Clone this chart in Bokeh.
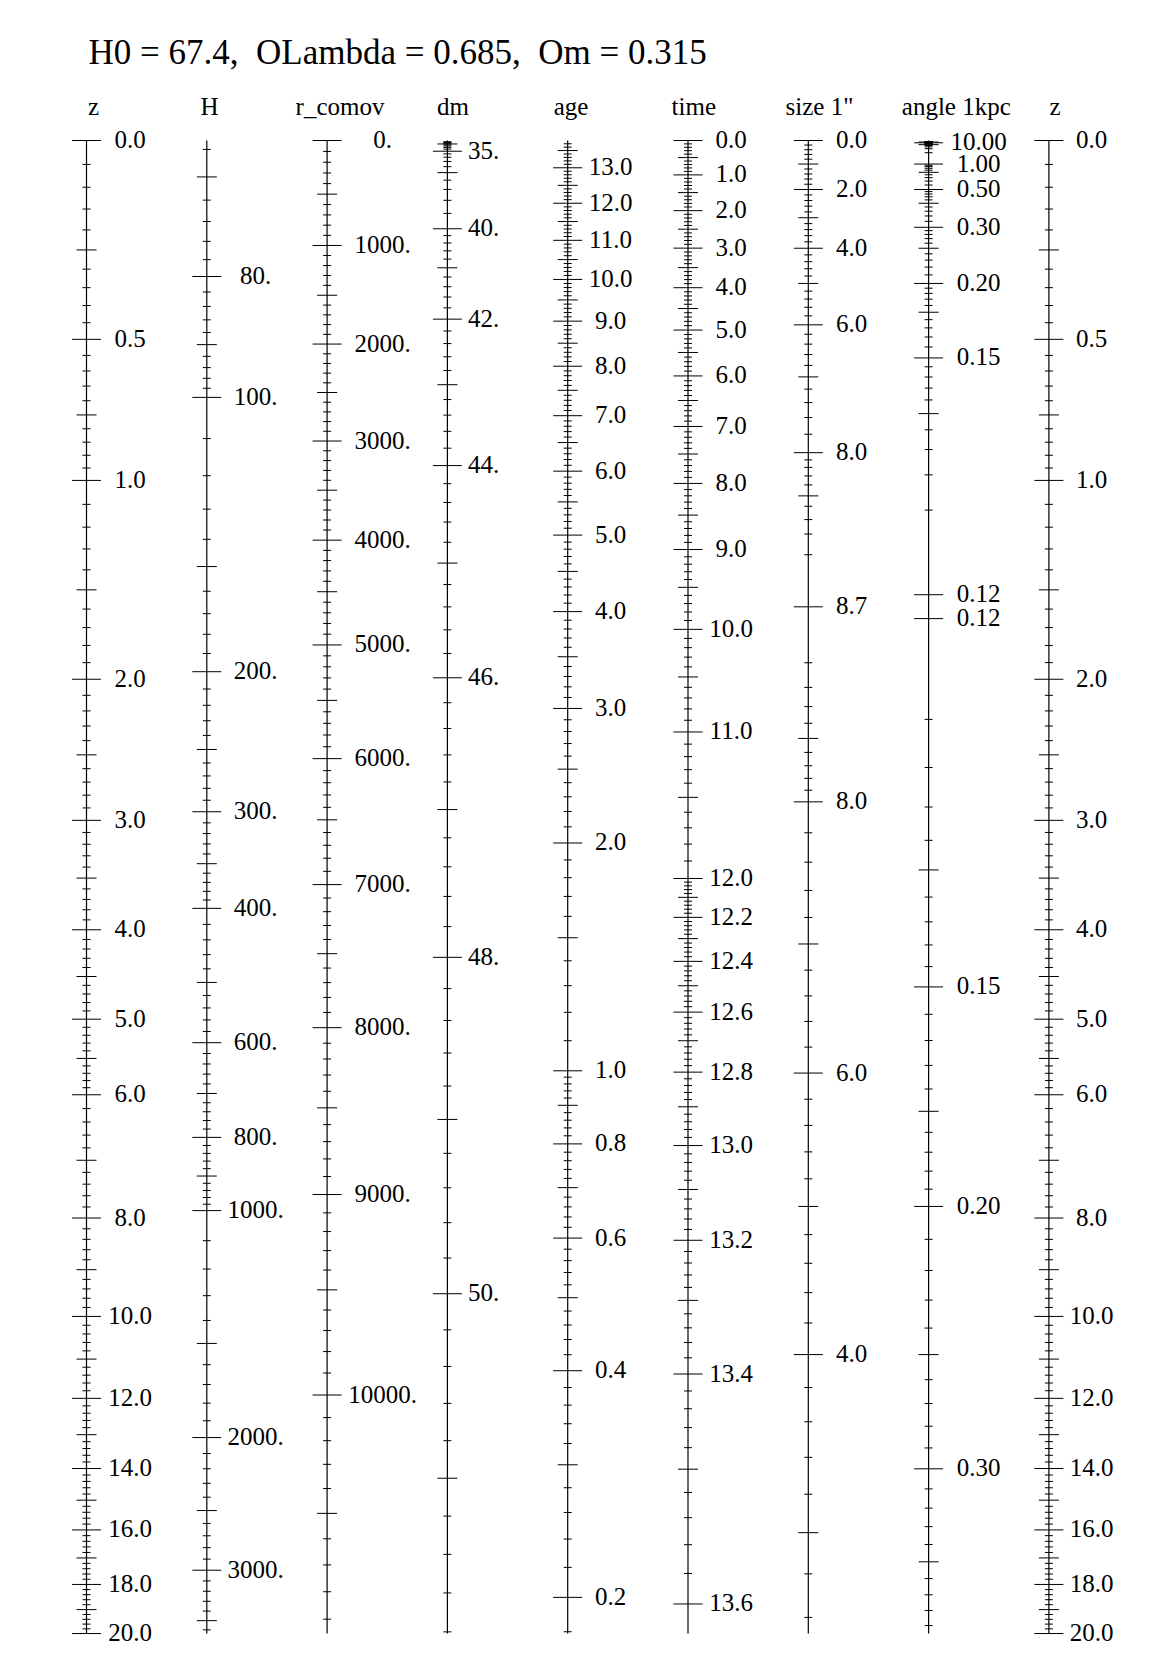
import numpy as np
from bokeh.plotting import figure
from bokeh.models import Range1d
from bokeh.embed import file_html
from bokeh.resources import INLINE
from bokeh.core.properties import value

# ------------------------------------------------------------------ data
TITLE = "H0 = 67.4,\u00a0 OLambda = 0.685,\u00a0 Om = 0.315"
HEADERS = ["z", "H", "r_comov", "dm", "age", "time", 'size 1"', "angle 1kpc", "z"]

Z_RANGE = [0.0, 20.0]

# redshift scale (its own values are the positions)
z_major = [0.0, 0.5, 1.0, 2.0, 3.0, 4.0, 5.0, 6.0, 8.0, 10.0, 12.0, 14.0, 16.0, 18.0, 20.0]
z_labels = ["0.0", "0.5", "1.0", "2.0", "3.0", "4.0", "5.0", "6.0", "8.0", "10.0",
            "12.0", "14.0", "16.0", "18.0", "20.0"]

# Hubble parameter H
H_major = [80, 100, 200, 300, 400, 600, 800, 1000, 2000, 3000]
H_labels = ["80.", "100.", "200.", "300.", "400.", "600.", "800.", "1000.", "2000.", "3000."]
H_ext = [60, 4000]
H_val = [67.4, 70, 80, 90, 100, 150, 200, 250, 300, 350, 400, 500, 600, 700, 800, 900,
         1000, 1500, 2000, 2500, 3000, 3500, 3641]
H_z = [0.0, 0.07712, 0.31961, 0.51624, 0.68849, 1.38406, 1.95415, 2.46193, 2.93052, 3.3697,
       3.78637, 4.56686, 5.2947, 5.98142, 6.63528, 7.26155, 7.86483, 10.6226, 13.0817,
       15.3424, 17.4563, 19.4556, 20.0]

# comoving distance
r_major = [0, 1000, 2000, 3000, 4000, 5000, 6000, 7000, 8000, 9000, 10000]
r_labels = ["0.", "1000.", "2000.", "3000.", "4000.", "5000.", "6000.", "7000.", "8000.",
            "9000.", "10000."]
r_ext = [None, 11000]
r_val = [0, 500, 1000, 1500, 2000, 2500, 3000, 3500, 4000, 4500, 5000, 5500, 6000, 6500,
         7000, 7500, 8000, 8500, 9000, 9500, 10000, 10500, 10951.6]
r_z = [0.0, 0.1156, 0.2387, 0.371, 0.5145, 0.6718, 0.8456, 1.0402, 1.2591, 1.5096, 1.7973,
       2.132, 2.5271, 2.9958, 3.56, 4.2498, 5.105, 6.189, 7.579, 9.42, 11.912, 15.436, 20.0]

# distance modulus
dm_major = [35, 40, 42, 44, 46, 48, 50]
dm_labels = ["35.", "40.", "42.", "44.", "46.", "48.", "50."]
dm_ext = [30, 52]
dm_val = [30, 32.5, 33.5, 34, 35, 36, 37.5, 38, 39, 40, 41, 42, 43, 44, 45, 46, 47, 48, 49,
          50, 51, 51.8085]
dm_z = [0.002244, 0.007071, 0.011171, 0.014033, 0.022112, 0.03468, 0.06768, 0.08425, 0.1297,
        0.1972, 0.2964, 0.4395, 0.6454, 0.9404, 1.3672, 1.991, 2.913, 4.289, 6.361, 9.5025,
        14.3, 20.0]

# age of the universe (Gyr)
age_major = [13.0, 12.0, 11.0, 10.0, 9.0, 8.0, 7.0, 6.0, 5.0, 4.0, 3.0, 2.0, 1.0, 0.8, 0.6,
             0.4, 0.2]
age_labels = ["13.0", "12.0", "11.0", "10.0", "9.0", "8.0", "7.0", "6.0", "5.0", "4.0", "3.0",
              "2.0", "1.0", "0.8", "0.6", "0.4", "0.2"]
age_ext = [14.0, 0.0]
age_val = [13.796, 13.7, 13.6, 13.5, 13.0, 12.5, 12.0, 11.5, 11.0, 10.5, 10.0, 9.5, 9.0, 8.5,
           8.0, 7.5, 7.0, 6.5, 6.0, 5.5, 5.0, 4.5, 4.0, 3.5, 3.0, 2.5, 2.0, 1.5, 1.0, 0.9,
           0.8, 0.7, 0.6, 0.5, 0.4, 0.3, 0.2, 0.179]
age_z = [0.0, 0.00666, 0.01366, 0.02073, 0.05721, 0.09572, 0.13648, 0.17972, 0.22575,
         0.27487, 0.32753, 0.38416, 0.44536, 0.51186, 0.58448, 0.6643, 0.75269, 0.85139,
         0.96263, 1.08945, 1.23592, 1.40777, 1.6134, 1.86545, 2.18395, 2.60355, 3.18909,
         4.08192, 5.66599, 6.152, 6.7374, 7.4592, 8.3758, 9.5877, 11.288, 13.886, 18.507, 20.0]

# lookback time (Gyr)
time_major = [0.0, 1.0, 2.0, 3.0, 4.0, 5.0, 6.0, 7.0, 8.0, 9.0, 10.0, 11.0, 12.0, 12.2, 12.4,
              12.6, 12.8, 13.0, 13.2, 13.4, 13.6]
time_labels = ["0.0", "1.0", "2.0", "3.0", "4.0", "5.0", "6.0", "7.0", "8.0", "9.0", "10.0",
               "11.0", "12.0", "12.2", "12.4", "12.6", "12.8", "13.0", "13.2", "13.4", "13.6"]
time_ext = [None, 13.8]
time_val = [0.0, 0.5, 1.0, 1.5, 2.0, 2.5, 3.0, 3.5, 4.0, 4.5, 5.0, 5.5, 6.0, 6.5, 7.0, 7.5,
            8.0, 8.5, 9.0, 9.5, 10.0, 10.5, 11.0, 11.5, 12.0, 12.1, 12.2, 12.3, 12.4, 12.5,
            12.6, 12.7, 12.8, 12.9, 13.0, 13.1, 13.2, 13.3, 13.4, 13.5, 13.6, 13.617]
time_z = [0.0, 0.03539, 0.07267, 0.11207, 0.15381, 0.19816, 0.24542, 0.29594, 0.35013,
          0.40855, 0.47188, 0.54073, 0.61619, 0.69926, 0.79164, 0.89522, 1.01232, 1.1466,
          1.30263, 1.48715, 1.70984, 1.98587, 2.34047, 2.81691, 3.50356, 3.68024, 3.875,
          4.09108, 4.33267, 4.60478, 4.91426, 5.27, 5.6841, 6.1737, 6.7636, 7.4916, 8.4177,
          9.6452, 11.3703, 14.0202, 18.7715, 20.0]

# size of 1 arcsec (kpc): rising branch, then falling branch after the 8.7 peak
size_up_major = [0.0, 2.0, 4.0, 6.0, 8.0, 8.699]
size_up_labels = ["0.0", "2.0", "4.0", "6.0", "8.0", "8.7"]
size_up_val = [0.0, 0.5, 1.0, 2.0, 3.0, 4.0, 5.0, 6.0, 7.0, 7.5, 8.0, 8.07, 8.14, 8.21, 8.28,
               8.35, 8.419, 8.489, 8.559, 8.629, 8.699]
size_up_z = [0.0, 0.02384, 0.0492, 0.1051, 0.1706, 0.2457, 0.3384, 0.4563, 0.6194, 0.7318,
             0.89, 0.918, 0.9477, 0.9819, 1.0186, 1.0644, 1.108, 1.166, 1.231, 1.327, 1.588]
size_dn_major = [8.699, 8.0, 6.0, 4.0]
size_dn_labels = [None, "8.0", "6.0", "4.0"]
size_dn_ext = [None, 2.0]
size_dn_val = [8.699, 8.629, 8.559, 8.489, 8.419, 8.35, 8.28, 8.21, 8.14, 8.07, 8.0, 7.5, 7.0,
               6.0, 5.0, 4.0, 3.0, 2.6, 2.528]
size_dn_z = [1.588, 1.901, 2.0506, 2.1726, 2.2824, 2.384, 2.482, 2.578, 2.6715, 2.7617, 2.852,
             3.485, 4.147, 5.697, 7.79, 10.89, 16.096, 19.32, 20.0]

# angle subtended by 1 kpc (arcsec): falling branch, then rising branch after the minimum
ang_up_major = [10.0, 1.0, 0.5, 0.3, 0.2, 0.15, 0.115]
ang_up_labels = ["10.00", "1.00", "0.50", "0.30", "0.20", "0.15", "0.12"]
ang_up_ext = [19.0, None]
ang_up_val = [19.0, 14.5, 10.0, 5.5, 2.8, 1.9, 1.0, 0.75, 0.5, 0.4, 0.3, 0.25, 0.2, 0.175,
              0.15, 0.14, 0.1325, 0.125, 0.12, 0.118, 0.115]
ang_up_z = [0.002448, 0.003211, 0.004664, 0.008521, 0.01691, 0.025172, 0.0492, 0.06703,
            0.1051, 0.1365, 0.1936, 0.2457, 0.3384, 0.4193, 0.558, 0.6513, 0.7453, 0.89,
            1.053, 1.157, 1.525]
ang_dn_major = [0.115, 0.15, 0.2, 0.3]
ang_dn_labels = ["0.12", "0.15", "0.20", "0.30"]
ang_dn_ext = [None, 0.4]
ang_dn_val = [0.115, 0.118, 0.12, 0.125, 0.1325, 0.14, 0.15, 0.175, 0.2, 0.25, 0.3, 0.35,
              0.3955]
ang_dn_z = [1.651, 2.195, 2.404, 2.852, 3.4257, 3.954, 4.618, 6.24, 7.79, 10.89, 14.009,
            17.143, 20.0]

# ------------------------------------------------------------------ layout
W, HGT = 1150, 1670
Y0, KY = 140.0, 490.4                 # pixel row of z=0 and pixels per unit of ln(1+z)
AXIS_X = [86.0 + 120.3 * i for i in range(9)]
LABEL_X = [129.5, 255.0, 382.0, 483.0, 610.0, 730.5, 851.0, 978.0, 1091.0]
HEADER_X = [93.0, 209.0, 339.5, 452.5, 570.5, 693.3, 819.0, 955.8, 1054.5]
TICK_HALF = [14.5, 10.0, 4.0]         # major, medium, minor
FONT = value("Liberation Serif")


def px_to_y(py):
    return float(np.exp((py - Y0) / KY))


def pchip(xk, yk, x):
    xk = np.asarray(xk, float)
    yk = np.asarray(yk, float)
    x = np.asarray(x, float)
    h = np.diff(xk)
    d = np.diff(yk) / h
    n = len(xk)
    m = np.zeros(n)
    if n == 2:
        m[:] = d[0]
    else:
        for k in range(1, n - 1):
            if d[k - 1] * d[k] <= 0:
                m[k] = 0.0
            else:
                w1 = 2 * h[k] + h[k - 1]
                w2 = h[k] + 2 * h[k - 1]
                m[k] = (w1 + w2) / (w1 / d[k - 1] + w2 / d[k])
        m0 = ((2 * h[0] + h[1]) * d[0] - h[0] * d[1]) / (h[0] + h[1])
        if np.sign(m0) != np.sign(d[0]):
            m0 = 0.0
        elif np.sign(d[0]) != np.sign(d[1]) and abs(m0) > abs(3 * d[0]):
            m0 = 3 * d[0]
        m[0] = m0
        mn = ((2 * h[-1] + h[-2]) * d[-1] - h[-1] * d[-2]) / (h[-1] + h[-2])
        if np.sign(mn) != np.sign(d[-1]):
            mn = 0.0
        elif np.sign(d[-1]) != np.sign(d[-2]) and abs(mn) > abs(3 * d[-1]):
            mn = 3 * d[-1]
        m[-1] = mn
    idx = np.clip(np.searchsorted(xk, x) - 1, 0, n - 2)
    t = (x - xk[idx]) / h[idx]
    h00 = 2 * t**3 - 3 * t**2 + 1
    h10 = t**3 - 2 * t**2 + t
    h01 = -2 * t**3 + 3 * t**2
    h11 = t**3 - t**2
    return h00 * yk[idx] + h10 * h[idx] * m[idx] + h01 * yk[idx + 1] + h11 * h[idx] * m[idx + 1]


def build_scale(majors, labels, ext, anchor_v, anchor_z, skip_first=False):
    """Returns tick positions (as 1+z), tick levels, label positions and label texts."""
    seq = ([ext[0]] if ext and ext[0] is not None else []) + list(majors) + \
          ([ext[1]] if ext and ext[1] is not None else [])
    vals, levs = [], []
    for a, b in zip(seq[:-1], seq[1:]):
        for k in range(1, 10):
            vals.append(a + (b - a) * k / 10.0)
            levs.append(1 if k == 5 else 2)
    for j, mv in enumerate(majors):
        if skip_first and j == 0:
            continue
        vals.append(mv)
        levs.append(0)
    vals = np.array(vals, float)
    levs = np.array(levs)
    if anchor_v is None:          # the redshift scale itself
        zz = vals
        keep = (zz >= Z_RANGE[0] - 1e-9) & (zz <= Z_RANGE[1] + 1e-9)
        y_t = 1.0 + zz[keep]
        y_lab = 1.0 + np.array(majors, float)
    else:
        av = np.array(anchor_v, float)
        au = np.log1p(np.array(anchor_z, float))
        order = np.argsort(av)
        av, au = av[order], au[order]
        keep = (vals >= av[0] - 1e-9) & (vals <= av[-1] + 1e-9)
        y_t = np.exp(pchip(av, au, vals[keep]))
        y_lab = np.exp(pchip(av, au, np.array(majors, float)))
    lab_y, lab_t = [], []
    for yl, tl in zip(y_lab, labels):
        if tl:
            lab_y.append(float(yl))
            lab_t.append(tl)
    return y_t, levs[keep], lab_y, lab_t


columns = [
    [(z_major, z_labels, None, None, None, False)],
    [(H_major, H_labels, H_ext, H_val, H_z, False)],
    [(r_major, r_labels, r_ext, r_val, r_z, False)],
    [(dm_major, dm_labels, dm_ext, dm_val, dm_z, False)],
    [(age_major, age_labels, age_ext, age_val, age_z, False)],
    [(time_major, time_labels, time_ext, time_val, time_z, False)],
    [(size_up_major, size_up_labels, None, size_up_val, size_up_z, False),
     (size_dn_major, size_dn_labels, size_dn_ext, size_dn_val, size_dn_z, True)],
    [(ang_up_major, ang_up_labels, ang_up_ext, ang_up_val, ang_up_z, False),
     (ang_dn_major, ang_dn_labels, ang_dn_ext, ang_dn_val, ang_dn_z, False)],
    [(z_major, z_labels, None, None, None, False)],
]

p = figure(width=W, height=HGT, x_range=Range1d(0, W),
           y_range=Range1d(start=px_to_y(HGT), end=px_to_y(0)),
           y_axis_type="log", output_backend="svg", toolbar_location=None,
           min_border=0, x_axis_location=None, y_axis_location=None)
p.outline_line_color = None
p.background_fill_color = "white"
p.border_fill_color = "white"
p.xgrid.visible = False
p.ygrid.visible = False
for g in p.grid:
    g.visible = False

tx0, tx1, ty = [], [], []
lx, ly, lt = [], [], []
for ci, parts in enumerate(columns):
    ax = AXIS_X[ci]
    for (maj, labs, ext, av, az, skip) in parts:
        y_t, lev, lab_y, lab_t = build_scale(maj, labs, ext, av, az, skip)
        for yy, lv in zip(y_t, lev):
            tx0.append(ax - TICK_HALF[lv])
            tx1.append(ax + TICK_HALF[lv])
            ty.append(float(yy))
        for yy, tt in zip(lab_y, lab_t):
            lx.append(LABEL_X[ci])
            ly.append(yy)
            lt.append(tt)

# axis lines
p.segment(x0=AXIS_X, y0=[1.0 + Z_RANGE[0]] * 9, x1=AXIS_X, y1=[1.0 + Z_RANGE[1]] * 9,
          line_color="black", line_width=1.2)
# ticks
p.segment(x0=tx0, y0=ty, x1=tx1, y1=ty, line_color="black", line_width=1.0)
# tick labels
p.text(x=lx, y=ly, text=lt, text_font=FONT, text_font_size="25px", text_color="black",
       text_align="center", text_baseline="alphabetic", y_offset=-1)
# headers
p.text(x=HEADER_X, y=[px_to_y(106)] * 9, text=HEADERS, text_font=FONT,
       text_font_size="25px", text_color="black", text_align="center",
       text_baseline="alphabetic")
# title
p.text(x=[88], y=[px_to_y(52)], text=[TITLE], text_font=FONT, text_font_size="35px",
       text_color="black", text_align="left", text_baseline="alphabetic")

open("out.html", "w").write(file_html(p, INLINE))
